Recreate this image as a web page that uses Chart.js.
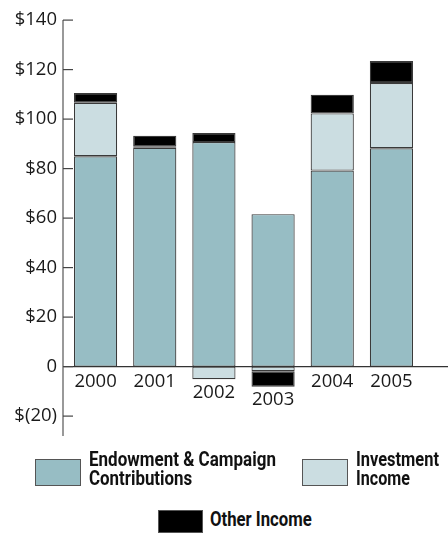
<!DOCTYPE html>
<html>
<head>
<meta charset="utf-8">
<script src="https://cdn.jsdelivr.net/npm/chart.js@4.4.1/dist/chart.umd.min.js"></script>
<style>
  body { margin: 0; background: #fff; width: 448px; height: 533px; overflow: hidden; position: relative; }
  #chart { position: absolute; left: 0; top: 0; }
  .lg-box { position: absolute; box-sizing: border-box; border: 1px solid #555; }
  .lg-txt { position: absolute; font: bold 20px Roboto, 'Liberation Sans', sans-serif; line-height: 19px; color: #111; white-space: nowrap; transform-origin: 0 0; }
  .lg-txt span { display: inline-block; transform-origin: 0 0; }
</style>
</head>
<body>
<canvas id="chart" width="448" height="456"></canvas>
<div id="legend"></div>
<script>
// Dữ liệu (triệu $)
const years = ['2000', '2001', '2002', '2003', '2004', '2005'];
const endowment = [85, 88.4, 90.7, 61.6, 79.2, 88.2];
const investment = [21.6, 0.6, -5.1, -1.9, 23.1, 26.4];
const otherIncome = [3.9, 4.3, 3.7, -6.2, 7.5, 8.9];
const yTicks = [-20, 0, 20, 40, 60, 80, 100, 120, 140];
const yTickLabels = ['$(20)', '0', '$20', '$40', '$60', '$80', '$100', '$120', '$140'];
const seriesNames = [['Endowment & Campaign', 'Contributions'], ['Investment', 'Income'], ['Other Income']];
const seriesColors = ['#97bdc4', '#cbdde1', '#000000'];

// Vẽ trục, vạch chia và nhãn năm
const axisPlugin = {
    id: 'axisPlugin',
    afterDatasetsDraw(chart) {
        const { ctx, chartArea, scales: { x, y } } = chart;
        const ax = chartArea.left - 3;
        const y0 = y.getPixelForValue(0);
        ctx.save();
        ctx.strokeStyle = '#333';
        ctx.lineWidth = 1.2;
        ctx.beginPath();
        ctx.moveTo(ax, y0);
        ctx.lineTo(chart.width, y0);
        ctx.stroke();

        ctx.strokeStyle = '#777';
        ctx.lineWidth = 1.5;
        ctx.beginPath();
        ctx.moveTo(ax, y.getPixelForValue(140));
        ctx.lineTo(ax, chartArea.bottom);
        ctx.stroke();

        ctx.strokeStyle = '#444';
        ctx.lineWidth = 1.2;
        yTicks.forEach(v => {
            const py = y.getPixelForValue(v);
            ctx.beginPath();
            ctx.moveTo(ax, py);
            ctx.lineTo(ax + 10, py);
            ctx.stroke();
        });

        ctx.fillStyle = '#1a1a1a';
        ctx.font = '18.5px "Open Sans", sans-serif';
        ctx.textAlign = 'center';
        ctx.textBaseline = 'top';
        years.forEach((yr, i) => {
            const neg = [endowment[i], investment[i], otherIncome[i]].filter(v => v < 0).reduce((a, b) => a + b, 0);
            ctx.fillText(yr, x.getPixelForValue(i), y.getPixelForValue(neg) + (neg < 0 ? 4 : 6));
        });
        ctx.restore();
    }
};

const datasets = [endowment, investment, otherIncome].map((data, i) => ({
    label: seriesNames[i].join(' '),
    data: data,
    backgroundColor: seriesColors[i],
    borderColor: '#3a3a3a',
    borderWidth: 1.2,
    borderSkipped: false,
    categoryPercentage: 1,
    barPercentage: 0.73
}));

new Chart(document.getElementById('chart').getContext('2d'), {
    type: 'bar',
    data: { labels: years, datasets: datasets },
    options: {
        responsive: false,
        animation: false,
        layout: { padding: { top: 19, right: 27, bottom: 5, left: 0 } },
        plugins: { legend: { display: false }, tooltip: { enabled: false } },
        scales: {
            x: { stacked: true, display: false },
            y: {
                stacked: true,
                min: -28,
                max: 140,
                afterBuildTicks: scale => { scale.ticks = yTicks.map(v => ({ value: v })); },
                afterFit: scale => { scale.width = 66; },
                grid: { display: false, drawTicks: false },
                border: { display: false },
                ticks: {
                    padding: 9,
                    color: '#1a1a1a',
                    font: { family: 'Open Sans', size: 18.5 },
                    callback: (v, i) => yTickLabels[i]
                }
            }
        }
    },
    plugins: [axisPlugin]
});

// Chú thích HTML
const legendPos = [
    { box: [35, 459, 46, 27], txt: [89, 450], w: [187, 103] },
    { box: [302, 459, 46, 27], txt: [356, 450], w: [83, 54] },
    { box: [158, 510, 45, 23], txt: [210, 510], w: [102] }
];
const legend = document.getElementById('legend');
seriesNames.forEach((lines, i) => {
    const p = legendPos[i];
    const b = document.createElement('div');
    b.className = 'lg-box';
    Object.assign(b.style, { left: p.box[0] + 'px', top: p.box[1] + 'px', width: p.box[2] + 'px', height: p.box[3] + 'px', background: seriesColors[i] });
    legend.appendChild(b);
    const t = document.createElement('div');
    t.className = 'lg-txt';
    t.style.left = p.txt[0] + 'px';
    t.style.top = p.txt[1] + 'px';
    lines.forEach((s, k) => {
        const sp = document.createElement('span');
        sp.textContent = s;
        t.appendChild(sp);
        if (k < lines.length - 1) t.appendChild(document.createElement('br'));
    });
    legend.appendChild(t);
    t.querySelectorAll('span').forEach((sp, k) => {
        sp.style.transform = 'scaleX(' + (p.w[k] / sp.offsetWidth) + ')';
    });
});
</script>
</body>
</html>
